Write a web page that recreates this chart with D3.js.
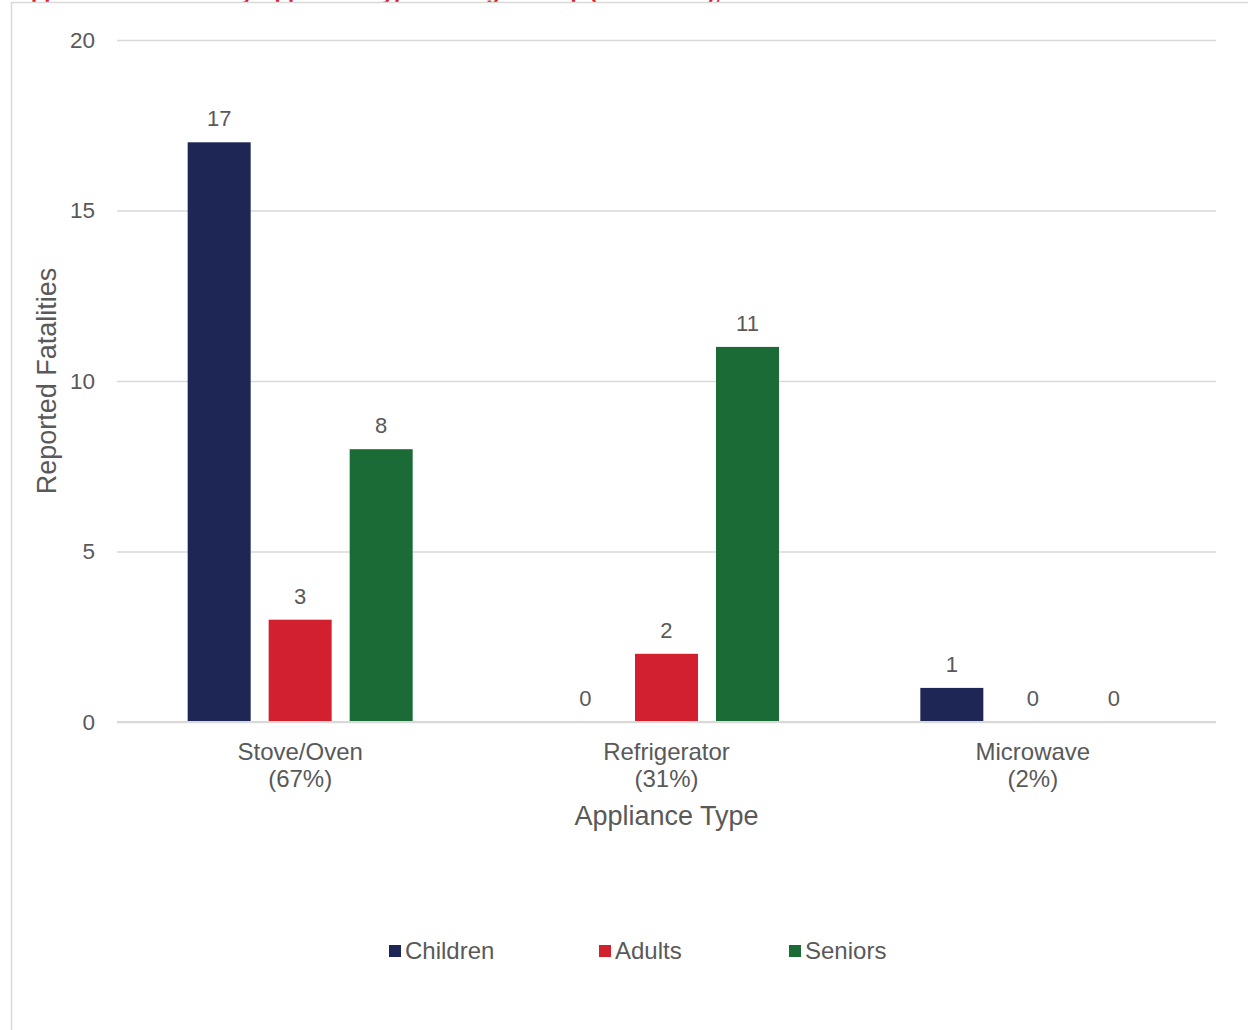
<!DOCTYPE html>
<html>
<head>
<meta charset="utf-8">
<script src="https://cdn.jsdelivr.net/npm/d3@7"></script>
<style>
  body { margin: 0; background: #fff; }
  svg { display: block; font-family: "Liberation Sans", Arial, sans-serif; }
</style>
</head>
<body>
<svg id="chart" width="1248" height="1030"></svg>
<script>
const categories = ["Stove/Oven", "Refrigerator", "Microwave"];
const shares = ["(67%)", "(31%)", "(2%)"];
const series = ["Children", "Adults", "Seniors"];
const children = [17, 0, 1];
const adults = [3, 2, 0];
const seniors = [8, 11, 0];
const yTicks = [0, 5, 10, 15, 20];

const colors = { Children: "#1d2654", Adults: "#d2202f", Seniors: "#1b6b37" };
const values = { Children: children, Adults: adults, Seniors: seniors };

const margin = { top: 40, left: 117, right: 32, bottom: 308 };
const width = 1248 - margin.left - margin.right;
const height = 1030 - margin.top - margin.bottom;

const svg = d3.select("#chart");
const textColor = "#595959";

// title sits above the frame, only its descenders show
svg.append("text")
    .attr("x", 15)
    .attr("y", -1.5)
    .attr("fill", "#d2202f")
    .style("font-size", "22px")
    .style("font-weight", "bold")
    .text("Appliance Fatalities by Appliance Type and Age Group (2000–2021),");

// chart frame
svg.append("rect")
    .attr("x", 11.5)
    .attr("y", 2.5)
    .attr("width", 1300)
    .attr("height", 1100)
    .attr("fill", "#fff")
    .attr("stroke", "#d9d9d9")
    .attr("stroke-width", 1.5);

const g = svg.append("g").attr("transform", `translate(${margin.left},${margin.top})`);

const x0 = d3.scaleBand().domain(categories).range([0, width]);
const groupW = 225;
const x1 = d3.scaleBand()
    .domain(series)
    .range([x0.bandwidth() / 2 - groupW / 2, x0.bandwidth() / 2 + groupW / 2])
    .paddingInner(18 / 81);

const y = d3.scaleLinear().domain([0, 20]).range([height, 0]);

// gridlines
g.append("g")
    .call(d3.axisLeft(y).tickValues(yTicks).tickSize(-width).tickFormat(""))
    .call(s => s.select(".domain").remove())
    .call(s => s.selectAll("line").attr("stroke", "#d9d9d9").attr("stroke-width", 1.3));

// y tick labels
g.append("g")
    .call(d3.axisLeft(y).tickValues(yTicks).tickSize(0).tickPadding(22))
    .call(s => s.select(".domain").remove())
    .call(s => s.selectAll("text")
        .attr("fill", textColor)
        .style("font-size", "22.5px")
        .style("font-family", "'Liberation Sans', Arial, sans-serif"));

// bars
const groups = g.selectAll(".grp")
    .data(categories)
    .join("g")
    .attr("transform", d => `translate(${x0(d)},0)`);

groups.each(function(cat, ci) {
    const grp = d3.select(this);
    series.forEach(s => {
        const v = values[s][ci];
        grp.append("rect")
            .attr("x", x1(s))
            .attr("y", y(v))
            .attr("width", x1.bandwidth())
            .attr("height", height - y(v))
            .attr("fill", colors[s]);
        grp.append("text")
            .attr("x", x1(s) + x1.bandwidth() / 2)
            .attr("y", y(v) - 16)
            .attr("text-anchor", "middle")
            .attr("fill", textColor)
            .style("font-size", "22px")
            .text(v);
    });
});

// baseline
g.append("line")
    .attr("x1", 0).attr("x2", width)
    .attr("y1", height).attr("y2", height)
    .attr("stroke", "#d9d9d9")
    .attr("stroke-width", 2);

// category labels
const xl = g.append("g").attr("transform", `translate(0,${height})`);
categories.forEach((c, i) => {
    const cx = x0(c) + x0.bandwidth() / 2;
    xl.append("text")
        .attr("x", cx).attr("y", 38)
        .attr("text-anchor", "middle")
        .attr("fill", textColor)
        .style("font-size", "24px")
        .text(c);
    xl.append("text")
        .attr("x", cx).attr("y", 65)
        .attr("text-anchor", "middle")
        .attr("fill", textColor)
        .style("font-size", "24px")
        .text(shares[i]);
});

// axis titles
g.append("text")
    .attr("x", width / 2)
    .attr("y", height + 103)
    .attr("text-anchor", "middle")
    .attr("fill", textColor)
    .style("font-size", "27px")
    .text("Appliance Type");

svg.append("text")
    .attr("transform", `translate(56,${margin.top + height / 2}) rotate(-90)`)
    .attr("text-anchor", "middle")
    .attr("fill", textColor)
    .style("font-size", "27px")
    .text("Reported Fatalities");

// legend
const legendX = [389, 599, 789];
const legend = svg.append("g").attr("transform", "translate(0,951)");
series.forEach((s, i) => {
    legend.append("rect")
        .attr("x", legendX[i])
        .attr("y", -6)
        .attr("width", 12)
        .attr("height", 12)
        .attr("fill", colors[s]);
    legend.append("text")
        .attr("x", legendX[i] + 16)
        .attr("y", 8)
        .attr("fill", textColor)
        .style("font-size", "24px")
        .text(s);
});
</script>
</body>
</html>
